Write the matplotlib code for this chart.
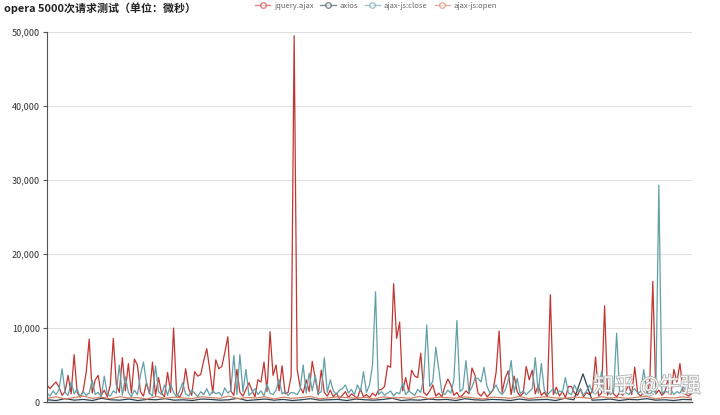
import numpy as np
import matplotlib
matplotlib.use("Agg")
import matplotlib.pyplot as plt
from matplotlib.lines import Line2D
import matplotlib.patheffects as pe

plt.rcParams['font.family'] = ['Noto Sans CJK SC', 'DejaVu Sans']

title = "opera 5000次请求测试（单位：微秒）"
series_names = ["jquery.ajax", "axios", "ajax-js:close", "ajax-js:open"]
series_colors = ["#c23531", "#2f4554", "#61a0a8", "#d48265"]
n_requests = 5000
y_ticks = [0, 10000, 20000, 30000, 40000, 50000]
y_tick_labels = ["0", "10,000", "20,000", "30,000", "40,000", "50,000"]

jquery_ajax = [
    2300, 1800, 2300, 2700, 2000, 900, 1400, 3600, 1100, 6400,
    1300, 700, 1500, 4000, 8500, 1200, 3000, 3600, 900, 1600,
    700, 2300, 8600, 2400, 1300, 6000, 1500, 5200, 1200, 5800,
    5000, 1400, 800, 2600, 1100, 5400, 900, 3300, 1200, 700,
    4000, 1300, 10000, 1100, 600, 1500, 4500, 1800, 900, 4100,
    3500, 3700, 5600, 7200, 4400, 1200, 5700, 4500, 4800, 6700,
    8800, 1500, 900, 4400, 1300, 800, 1700, 2600, 1600, 700,
    3000, 2700, 5400, 1400, 9500, 3600, 5000, 1500, 4900, 1100,
    1300, 3500, 49500, 4400, 2000, 1200, 3000, 1400, 5500, 3200,
    1000, 4300, 1300, 800, 1600, 700, 1200, 500, 900, 1400,
    600, 1100, 800, 500, 1800, 700, 1000, 600, 1200, 800,
    1600, 1700, 2100, 4900, 4700, 16000, 8600, 10800, 1500, 3300,
    1400, 4300, 3500, 3300, 6600, 1300, 900, 1500, 2300, 800,
    1200, 700, 2100, 3100, 2300, 900, 1300, 600, 1000, 1500,
    1100, 4600, 3600, 1200, 800, 1400, 700, 1100, 1600, 4000,
    9600, 1300, 3200, 4200, 1000, 3500, 1400, 800, 1200, 4800,
    3000, 4300, 1100, 2300, 900, 1300, 700, 14500, 1000, 2000,
    800, 1400, 600, 2100, 2100, 1200, 900, 1800, 700, 1300,
    1000, 1500, 6100, 800, 1200, 13000, 900, 2300, 1100, 700,
    1300, 900, 1500, 2300, 1000, 4700, 1200, 800, 1400, 900,
    2700, 16300, 1100, 1600, 900, 1300, 3000, 1000, 4400, 2700,
    5200, 1500, 1000, 800, 1200,
]

ajax_js_close = [
    1200, 800, 1500, 1000, 1700, 4500, 1300, 900, 2700, 1100,
    1800, 600, 1400, 900, 1200, 3000, 1000, 1300, 700, 3500,
    1100, 800, 1500, 1200, 5000, 900, 3400, 1300, 700, 1600,
    1000, 3600, 5400, 2600, 1200, 800, 4900, 1400, 1000, 2300,
    900, 2400, 1300, 700, 1500, 2600, 1100, 800, 1600, 1200,
    700, 1400, 1000, 1800, 900, 1500, 1100, 1300, 800, 1900,
    1200, 1600, 6300, 1000, 6400, 1400, 4400, 900, 1300, 1800,
    1000, 1500, 800, 2400, 1200, 1000, 1600, 3000, 1100, 1400,
    900, 1300, 1200, 1000, 1700, 5000, 1200, 3900, 1500, 3600,
    1100, 1400, 6000, 1300, 3000, 1500, 1000, 1600, 1800, 2300,
    1200, 1700, 1000, 2300, 1400, 4100, 1300, 2300, 5000, 14900,
    1000, 1400, 900, 1200, 1500, 800, 1300, 1100, 2600, 1000,
    1500, 1200, 900, 1700, 1300, 3200, 10400, 2100, 2800, 7400,
    4400, 1300, 1000, 1600, 1200, 3000, 11000, 1400, 1800, 5600,
    1300, 2000, 3200, 3200, 2700, 4700, 2100, 1200, 1700, 2300,
    1400, 1000, 1600, 2900, 5600, 1300, 3200, 1100, 1500, 1000,
    1400, 1800, 6000, 1200, 5200, 1600, 1000, 1400, 1800, 1100,
    1500, 1300, 3300, 1200, 1000, 2300, 1400, 1700, 900, 1500,
    2300, 1300, 1100, 1600, 4100, 1200, 1500, 1000, 1400, 9300,
    1100, 1600, 1300, 1000, 1500, 1800, 1200, 1400, 4400, 1300,
    1000, 1600, 1200, 29300, 1100, 1500, 1300, 1700, 1000, 1400,
    1200, 2100, 1500, 1100, 1300,
]

axios = [
    300, 200, 450, 250, 350, 200, 500, 300, 250, 400,
    200, 350, 300, 450, 250, 300, 200, 400, 350, 250,
    300, 500, 200, 300, 400, 250, 350, 200, 300, 450,
    250, 300, 350, 200, 400, 300, 250, 350, 500, 200,
    300, 250, 400, 300, 350, 200, 450, 300, 250, 350,
    300, 200, 400, 250, 300, 350, 200, 500, 300, 3800,
    250, 300, 400, 200, 350, 300, 450, 250, 300, 200,
    350, 300,
]

ajax_js_open = [
    500, 700, 400, 600, 800, 500, 650, 450, 700, 550,
    600, 400, 750, 500, 650, 550, 450, 700, 600, 500,
    800, 450, 600, 550, 700, 400, 650, 500, 600, 750,
    450, 550, 700, 600, 500, 650, 400, 700, 550, 600,
    500, 750, 450, 650, 600, 500, 700, 550, 400, 650,
    600, 500, 750, 450, 600, 700, 550, 500, 650, 600,
    450, 700, 550, 600, 500, 650, 750, 450, 600, 550,
    700, 500,
]

series_values = [jquery_ajax, axios, ajax_js_close, ajax_js_open]

fig = plt.figure(figsize=(7.2, 4.15), dpi=100)
ax = fig.add_axes([47 / 720, 1 - 402 / 415, 645 / 720, 370 / 415])

for name, vals, col in zip(series_names, series_values, series_colors):
    xs = np.linspace(0, n_requests - 1, len(vals))
    ax.plot(xs, vals, color=col, linewidth=0.9, label=name)

ax.set_xlim(0, n_requests - 1)
ax.set_ylim(0, 50000)
ax.set_yticks(y_ticks)
ax.set_yticklabels(y_tick_labels, fontsize=6.5, color="#333333")
ax.set_xticks([])
ax.grid(axis="y", color="#e0e0e0", linewidth=0.8)
ax.set_axisbelow(True)
for s in ["top", "right"]:
    ax.spines[s].set_visible(False)
ax.spines["left"].set_color("#555555")
ax.spines["left"].set_linewidth(0.8)
ax.spines["bottom"].set_color("#555555")
ax.spines["bottom"].set_linewidth(1.0)
ax.tick_params(axis="y", length=3, width=0.8, color="#555555", pad=2)

fig.text(4 / 720, 1 - 8 / 415, title, fontsize=7.9, fontweight="bold",
         color="#222222", ha="left", va="center")

handles = [Line2D([0], [0], color=c, linewidth=1, marker="o", markersize=4,
                  markerfacecolor="white", markeredgecolor=c, alpha=0.6)
           for c in series_colors]
fig.legend(handles, series_names, loc="center", bbox_to_anchor=(376 / 720, 1 - 6 / 415),
           ncol=4, frameon=False, fontsize=5.5, labelcolor="#666666",
           handlelength=2.0, handletextpad=0.5, columnspacing=0.9)

fig.text(647 / 720, 1 - 386 / 415, "知乎 @牛强", fontsize=15, color="white",
         ha="center", va="center", alpha=0.9,
         path_effects=[pe.withStroke(linewidth=1.2, foreground="#aaaaaa")])

fig.savefig("out.png", dpi=100)
